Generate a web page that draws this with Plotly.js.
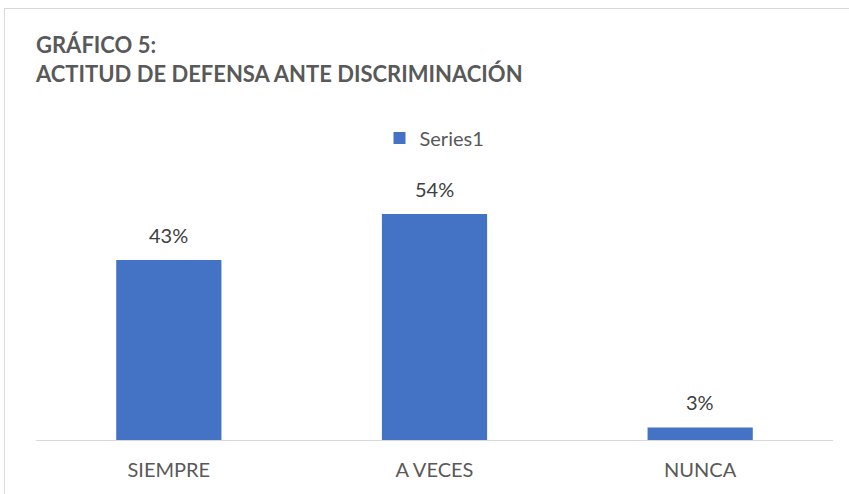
<!DOCTYPE html>
<html>
<head>
<meta charset="utf-8">
<script src="https://cdn.plot.ly/plotly-3.0.1.min.js"></script>
<style>
  html, body { margin: 0; padding: 0; background: #ffffff; }
  #wrap { position: relative; width: 849px; height: 494px; }
  #chart { width: 849px; height: 494px; }
  #frame { position: absolute; left: 4px; top: 8px; width: 850px; height: 500px;
           border: 1px solid #d9d9d9; pointer-events: none; box-sizing: border-box; }
</style>
</head>
<body>
<div id="wrap">
  <div id="chart"></div>
  <div id="frame"></div>
</div>
<script>
const categories = ["SIEMPRE", "A VECES", "NUNCA"];
const values = [43, 54, 3];
const valueLabels = ["43%", "54%", "3%"];
const seriesName = "Series1";

const barColor = "#4472C4";
const textColor = "#595959";
const fontFamily = "Lato, 'Open Sans', sans-serif";

const trace = {
  type: "bar",
  x: categories,
  y: values,
  name: seriesName,
  marker: { color: barColor },
  showlegend: true,
  hoverinfo: "none"
};

const annotations = categories.map((c, i) => ({
  x: c, y: values[i], xref: "x", yref: "y",
  text: valueLabels[i], showarrow: false,
  yanchor: "bottom", yshift: 11,
  font: { family: fontFamily, size: 20, color: "#404040" }
}));

const layout = {
  width: 849, height: 494,
  paper_bgcolor: "#ffffff", plot_bgcolor: "#ffffff",
  margin: { l: 36, r: 16, t: 189, b: 54 },
  bargap: 0.604,
  title: {
    text: "<b>GRÁFICO 5:<br>ACTITUD DE DEFENSA ANTE DISCRIMINACIÓN</b>",
    x: 0, xref: "paper", xanchor: "left",
    y: 0.955, yref: "container", yanchor: "top", pad: { t: 31 },
    font: { family: fontFamily, size: 22, color: textColor }
  },
  legend: {
    orientation: "h", x: 0.5, xanchor: "center", xref: "paper",
    y: 0.7206, yref: "container", yanchor: "middle",
    font: { family: fontFamily, size: 20, color: textColor },
    itemwidth: 30
  },
  xaxis: {
    showline: true, linecolor: "#d9d9d9", linewidth: 1,
    ticks: "", showgrid: false, zeroline: false,
    tickfont: { family: fontFamily, size: 20, color: textColor },
    ticklabelstandoff: 12
  },
  yaxis: {
    range: [0, 60], visible: false, showgrid: false, zeroline: false
  },
  annotations: annotations
};

Plotly.newPlot("chart", [trace], layout, { displayModeBar: false, staticPlot: true });
</script>
</body>
</html>
